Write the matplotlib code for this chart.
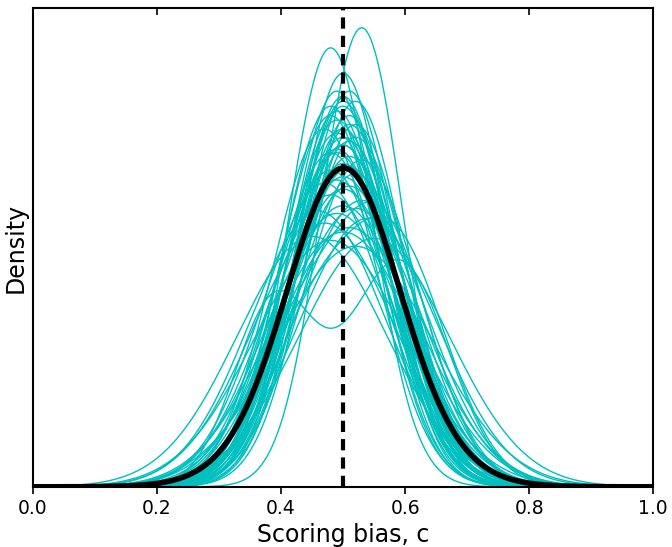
import numpy as np
import matplotlib
matplotlib.use('Agg')
import matplotlib.pyplot as plt

# posterior predictive densities of the scoring bias, one per draw
# (centre, spread)
centres = [0.53, 0.48, 0.50,
           0.49, 0.50, 0.51, 0.50, 0.48, 0.52, 0.49, 0.51, 0.50, 0.49,
           0.52, 0.48, 0.50, 0.51, 0.49, 0.50, 0.47, 0.51, 0.50, 0.52,
           0.49, 0.48, 0.50, 0.51, 0.53, 0.49, 0.50, 0.48, 0.51, 0.50,
           0.52, 0.47, 0.49, 0.50, 0.51, 0.48, 0.53, 0.50, 0.46, 0.52,
           0.49, 0.54, 0.47, 0.51, 0.50, 0.45, 0.55, 0.48, 0.52]
spreads = [0.0655, 0.0685, 0.0727,
           0.076, 0.077, 0.076, 0.078, 0.079, 0.078, 0.080, 0.081, 0.079, 0.082,
           0.083, 0.081, 0.084, 0.083, 0.085, 0.086, 0.084, 0.087, 0.088, 0.086,
           0.089, 0.090, 0.088, 0.091, 0.092, 0.090, 0.093, 0.095, 0.094, 0.097,
           0.096, 0.099, 0.098, 0.101, 0.100, 0.103, 0.105, 0.107, 0.109, 0.108,
           0.110, 0.112, 0.114, 0.116, 0.118, 0.120, 0.121, 0.122, 0.125]

# a few draws with two bumps: (centre1, spread1, weight1, centre2, spread2)
bumpy = [(0.39, 0.065, 0.40, 0.59, 0.080),
         (0.44, 0.070, 0.30, 0.58, 0.085),
         (0.42, 0.070, 0.30, 0.56, 0.080)]

x = np.linspace(0, 1, 400)

def gauss(m, s):
    return np.exp(-0.5 * ((x - m) / s) ** 2) / (s * np.sqrt(2 * np.pi))

curves = [gauss(m, s) for m, s in zip(centres, spreads)]
for m1, s1, w1, m2, s2 in bumpy:
    curves.append(w1 * gauss(m1, s1) + (1 - w1) * gauss(m2, s2))
curves = np.array(curves)

fig = plt.figure(figsize=(6.72, 5.47), dpi=100)
ax = fig.add_axes([0.049, 0.110, 0.923, 0.875])

for c in curves:
    ax.plot(x, c, color='c', lw=1.0)
ax.plot(x, curves.mean(axis=0), color='k', lw=4)
ax.axvline(0.5, color='k', lw=3, ls=(0, (2.7, 1.7)))

ax.set_xlim(0, 1)
ax.set_ylim(0, 6.35)
ax.set_yticks([])
ax.set_xticks([0.0, 0.2, 0.4, 0.6, 0.8, 1.0])
ax.tick_params(axis='x', bottom=True, top=True, direction='out',
               length=5, width=1.2, labelsize=13.5)
for t in ax.xaxis.get_major_ticks():
    t.tick2line.set_marker(3)
for s in ax.spines.values():
    s.set_linewidth(1.5)
ax.set_xlabel('Scoring bias, c', fontsize=17)
ax.set_ylabel('Density', fontsize=17)

fig.savefig('out.png', dpi=100)
